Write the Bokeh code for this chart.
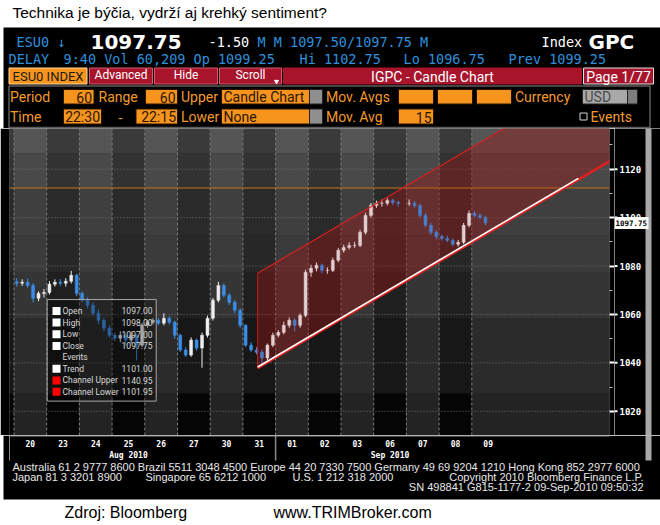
from bokeh.plotting import figure
from bokeh.models import Range1d, FixedTicker, ColumnDataSource
from bokeh.layouts import column, row
from bokeh.embed import file_html
from bokeh.resources import INLINE
from bokeh.core.properties import value

# ------------------------------------------------------------------ data
title_text = "Technika je býčia, vydrží aj krehký sentiment?"
day_labels = ["20", "23", "24", "25", "26", "27", "30", "31",
              "01", "02", "03", "06", "07", "08", "09"]
month_labels = ["Aug 2010", "Sep 2010"]
month_label_day = [3.5, 11.5]
month_break_day = [8]
bars_per_day = 6

open_by_day = [
    [1073.5, 1072.9, 1073.3, 1072.0, 1066.7, 1068.7],
    [1069.1, 1072.5, 1073.3, 1072.9, 1073.7, 1076.2],
    [1068.7, 1065.9, 1063.8, 1060.5, 1057.6, 1054.3],
    [1051.4, 1050.2, 1051.4, 1049.4, 1051.4, 1047.3],
    [1055.5, 1056.8, 1057.6, 1056.4, 1058.4, 1056.8],
    [1051.4, 1045.3, 1043.2, 1049.4, 1046.1, 1051.4],
    [1058.4, 1065.9, 1072.0, 1067.9, 1065.0, 1061.7],
    [1055.5, 1047.3, 1045.3, 1044.4, 1042.0, 1047.3],
    [1051.4, 1052.6, 1055.5, 1057.6, 1055.5, 1059.6],
    [1077.4, 1079.1, 1080.3, 1078.2, 1078.2, 1082.4],
    [1086.5, 1087.7, 1088.5, 1088.5, 1093.9, 1100.9],
    [1105.0, 1105.9, 1105.9, 1107.1, 1106.3],
    [1105.9, 1105.9, 1105.0, 1100.9, 1096.8, 1093.9],
    [1092.2, 1091.4, 1090.6, 1089.0, 1089.8, 1096.8],
    [1101.7, 1100.9, 1100.1],
]
high_by_day = [
    [1075.0, 1074.5, 1074.8, 1073.0, 1069.5, 1070.5],
    [1073.8, 1074.5, 1074.6, 1075.0, 1078.0, 1076.8],
    [1069.5, 1067.0, 1065.0, 1062.0, 1058.5, 1055.5],
    [1052.5, 1053.0, 1052.5, 1053.0, 1052.0, 1056.5],
    [1057.8, 1058.5, 1058.6, 1060.5, 1059.2, 1057.5],
    [1052.0, 1046.5, 1050.5, 1050.0, 1052.5, 1059.5],
    [1066.8, 1073.5, 1072.8, 1068.8, 1066.0, 1062.5],
    [1056.0, 1048.5, 1046.5, 1045.5, 1048.0, 1052.5],
    [1053.5, 1057.0, 1058.8, 1058.5, 1060.5, 1078.5],
    [1080.5, 1081.5, 1081.0, 1079.5, 1083.5, 1087.5],
    [1088.8, 1089.8, 1090.0, 1095.0, 1102.0, 1106.0],
    [1107.0, 1107.5, 1108.0, 1107.8, 1107.0],
    [1107.5, 1106.8, 1105.8, 1101.8, 1097.8, 1094.8],
    [1093.0, 1092.5, 1091.5, 1090.8, 1097.8, 1103.0],
    [1102.75, 1101.8, 1100.8],
]
low_by_day = [
    [1071.5, 1071.8, 1071.0, 1065.0, 1065.5, 1067.0],
    [1068.2, 1071.5, 1071.8, 1071.5, 1072.8, 1067.5],
    [1065.0, 1062.5, 1059.5, 1056.0, 1053.0, 1050.5],
    [1049.0, 1048.5, 1047.0, 1048.0, 1041.0, 1046.5],
    [1054.5, 1055.8, 1055.5, 1055.5, 1055.8, 1050.0],
    [1044.5, 1042.5, 1042.5, 1045.0, 1038.0, 1050.5],
    [1057.5, 1065.0, 1067.0, 1064.0, 1060.5, 1054.5],
    [1046.5, 1044.5, 1043.5, 1039.8, 1041.0, 1046.5],
    [1050.5, 1051.8, 1054.5, 1053.0, 1054.5, 1058.8],
    [1075.5, 1077.8, 1077.0, 1076.8, 1077.5, 1081.5],
    [1085.5, 1086.8, 1087.5, 1087.8, 1093.0, 1100.0],
    [1104.0, 1104.5, 1105.0, 1105.2, 1104.5],
    [1104.8, 1104.0, 1100.0, 1096.0, 1092.8, 1091.0],
    [1090.5, 1089.8, 1088.2, 1088.0, 1089.0, 1096.0],
    [1100.0, 1099.2, 1096.75],
]
close_by_day = [
    [1072.9, 1073.3, 1072.0, 1066.7, 1068.7, 1069.1],
    [1072.5, 1073.3, 1072.9, 1073.7, 1076.2, 1068.7],
    [1065.9, 1063.8, 1060.5, 1057.6, 1054.3, 1051.4],
    [1050.2, 1051.4, 1049.4, 1051.4, 1047.3, 1055.5],
    [1056.8, 1057.6, 1056.4, 1058.4, 1056.8, 1051.4],
    [1045.3, 1043.2, 1049.4, 1046.1, 1051.4, 1058.4],
    [1065.9, 1072.0, 1067.9, 1065.0, 1061.7, 1055.5],
    [1047.3, 1045.3, 1044.4, 1042.0, 1047.3, 1051.4],
    [1052.6, 1055.5, 1057.6, 1055.5, 1059.6, 1077.4],
    [1079.1, 1080.3, 1078.2, 1078.2, 1082.4, 1086.5],
    [1087.7, 1088.5, 1088.5, 1093.9, 1100.9, 1105.0],
    [1105.9, 1105.9, 1107.1, 1106.3, 1105.9],
    [1105.9, 1105.0, 1100.9, 1096.8, 1093.9, 1092.2],
    [1091.4, 1090.6, 1089.0, 1089.8, 1096.8, 1101.7],
    [1100.9, 1100.1, 1097.75],
]

price_ticks = [1020, 1040, 1060, 1080, 1100, 1120]
price_tick_labels = ["1020", "1040", "1060", "1080", "1100", "1120"]
price_minor = [1010, 1030, 1050, 1070, 1090, 1110, 1130]
last_price = 1097.75
last_price_label = "1097.75"
orange_level = 1112.2

channel_days = [7.45, 18.6]
channel_lower = [1037.8, 1126.3]
channel_upper = [1077.0, 1165.5]
trend_days = [7.45, 17.26]
trend_vals = [1038.3, 1116.2]

legend_names = ["Open", "High", "Low", "Close", "Events", "Trend",
                "Channel Upper", "Channel Lower"]
legend_values = ["1097.00", "1098.00", "1097.00", "1097.75", "",
                 "1101.00", "1140.95", "1101.95"]
legend_swatch = ["#ffffff", "#ffffff", "#ffffff", "#ffffff", None,
                 "#ffffff", "#ff0000", "#ff0000"]

# ------------------------------------------------------------------ layout constants (page px)
PX_DAY0, PX_PER_DAY = 13.5, 32.7
FRAME_L, FRAME_R = 9, 609
AXIS_W = 5            # tick strip right of the frame
X_START = (FRAME_L - PX_DAY0) / PX_PER_DAY
X_END = (FRAME_R - PX_DAY0) / PX_PER_DAY
Y_BOT, Y_TOP = 1010.0, 1136.8
PX_Y1120, PX_PER_UNIT = 168.7, 2.425


def dx(px):
    return (px - PX_DAY0) / PX_PER_DAY


def dy(py):
    return 1120 - (py - PX_Y1120) / PX_PER_UNIT


BLUE = "#2e90dc"
ORANGE_TXT = "#f39a2c"
ORANGE_FILL = "#f7941d"
RED_TAB = "#a8142c"
MONO = "DejaVu Sans Mono"


def add_texts(p, items, font, size, color, align="left", style="normal", **kw):
    p.text(x=[i[0] for i in items], y=[i[1] for i in items], text=[i[2] for i in items],
           text_font=value(font), text_font_size=size, text_color=color,
           text_align=align, text_baseline="middle", text_font_style=style, **kw)


def base_fig(width, height, xr, yr, bg="white"):
    f = figure(width=width, height=height, x_range=Range1d(*xr) if isinstance(xr, tuple) else xr,
               y_range=Range1d(*yr) if isinstance(yr, tuple) else yr,
               x_axis_location=None, y_axis_location=None, toolbar_location=None,
               output_backend="svg", min_border=0, min_border_left=0, min_border_right=0,
               min_border_top=0, min_border_bottom=0, outline_line_color=None,
               background_fill_color=bg, border_fill_color=bg)
    f.grid.visible = False
    return f


# ------------------------------------------------------------------ header (page y 0..128)
ph = base_fig(660, 128, (0, 660), (128, 0))
ph.quad(left=[3], right=[660], top=[27], bottom=[128], fill_color="black", line_color=None)
add_texts(ph, [(12, 12, title_text)], "Liberation Sans", "15.5px", "black")

add_texts(ph, [(16, 41.5, "ESU0 ↓"), (257, 41.5, "M M 1097.50/1097.75 M")], MONO, "13.5px", BLUE)
add_texts(ph, [(208, 41.5, "-1.50"), (541, 41.5, "Index")], MONO, "13.5px", "white")
add_texts(ph, [(90, 41.5, "1097.75"), (588, 41.5, "GPC")], "DejaVu Sans", "20px", "white", style="bold")
add_texts(ph, [(8, 58.5, "DELAY"), (63, 58.5, "9:40 Vol 60,209 Op 1099.25"),
               (299, 58.5, "Hi 1102.75"), (403, 58.5, "Lo 1096.75"),
               (508, 58.5, "Prev 1099.25")], MONO, "13.5px", BLUE)

tab_l = [8.5, 89, 154, 219, 283, 583]
tab_r = [86.5, 152, 217, 281, 581, 653]
tab_fill = [ORANGE_FILL, RED_TAB, RED_TAB, RED_TAB, RED_TAB, RED_TAB]
tab_line = ["#ffd9a0", "#d65a6a", "#d65a6a", "#d65a6a", RED_TAB, "#e0e0e0"]
ph.quad(left=tab_l, right=tab_r, top=[67.5] * 6, bottom=[83.5] * 6,
        fill_color=tab_fill, line_color=tab_line, line_width=1)
add_texts(ph, [(47.5, 76, "ESU0 INDEX")], "Roboto", "13px", "#1a1a1a", align="center")
add_texts(ph, [(120.5, 74.5, "Advanced"), (185.5, 74.5, "Hide"), (250, 74.5, "Scroll")],
          "Roboto", "12px", "white", align="center")
add_texts(ph, [(432, 76, "IGPC - Candle Chart"), (618, 76, "Page 1/77")],
          "Roboto", "14px", "white", align="center")
ph.scatter(x=[276], y=[81], marker="inverted_triangle", size=4, color="white")

ph.quad(left=[8.5], right=[649.5], top=[85.5], bottom=[127], fill_alpha=0,
        line_color="#5c5c5c", line_width=1.5)
ob_l = [63, 145, 221, 398, 437, 476, 63, 135.5, 221, 398]
ob_r = [93.5, 177, 309, 433, 472, 511, 101, 177, 309, 433]
ob_t = [89] * 6 + [108.5] * 4
ob_b = [103.5] * 6 + [123.5] * 4
ph.quad(left=ob_l, right=ob_r, top=ob_t, bottom=ob_b, fill_color=ORANGE_FILL, line_color="#2a1500")
ph.quad(left=[309, 309, 582, 627], right=[322, 322, 627, 637], top=[89, 108.5, 89, 89],
        bottom=[103.5, 123.5, 103.5, 103.5],
        fill_color=["#8f8f8f", "#8f8f8f", "#a9a9a9", "#7d7d7d"], line_color="#222222")
ph.quad(left=[579.5], right=[586.5], top=[112.5], bottom=[119.5], fill_alpha=0,
        line_color="#d0d0d0")
add_texts(ph, [(9.5, 96.5, "Period"), (98, 96.5, "Range"), (180.5, 96.5, "Upper"),
               (325.5, 96.5, "Mov. Avgs"), (514.5, 96.5, "Currency"),
               (9.5, 116.5, "Time"), (118, 116.5, "-"), (180.5, 116.5, "Lower"),
               (325.5, 116.5, "Mov. Avg"), (590, 116.5, "Events")],
          "Roboto", "14px", ORANGE_TXT)
add_texts(ph, [(91.5, 96.5, "60"), (175, 96.5, "60"), (99.5, 116.5, "22:30"),
               (175.5, 116.5, "22:15"), (431, 116.5, "15")],
          "Roboto", "14px", "#2b1600", align="right")
add_texts(ph, [(223, 96.5, "Candle Chart"), (223, 116.5, "None")], "Roboto", "14px", "#2b1600")
add_texts(ph, [(584, 96.5, "USD")], "Roboto", "14px", "#4a4a4a")

# ------------------------------------------------------------------ chart (page y 128..435)
pc = figure(width=FRAME_R + AXIS_W, height=307, x_range=Range1d(X_START, X_END),
            y_range=Range1d(Y_BOT, Y_TOP),
            x_axis_location=None, y_axis_location="right", toolbar_location=None,
            output_backend="svg", min_border_left=FRAME_L, min_border_right=AXIS_W,
            min_border_top=0, min_border_bottom=0, border_fill_color="black",
            background_fill_color="#262626", outline_line_color=None)
pc.grid.visible = False

band_edges = [1136.8, 1126.5, 1112.0, 1092.7, 1077.5, 1058.4, 1027.5, 1010.0]
light_shades = ["#555555", "#494949", "#3f3f3f", "#3b3b3b", "#353535", "#2b2b2b", "#232323"]
dark_shades = ["#3a3a3a", "#323232", "#2a2a2a", "#272727", "#1f1f1f", "#171717", "#050505"]
cols = [(-1, 0, False)] + [(d, d + 1, d % 2 == 0) for d in range(14)] + [(14, 20, True)]
qL, qR, qT, qB, qC = [], [], [], [], []
for (a, b, light) in cols:
    for r in range(len(band_edges) - 1):
        qL.append(a); qR.append(b)
        qT.append(band_edges[r]); qB.append(band_edges[r + 1])
        qC.append(light_shades[r] if light else dark_shades[r])
pc.quad(left=qL, right=qR, top=qT, bottom=qB, fill_color=qC, line_color=None)

bounds = list(range(len(day_labels)))
pc.segment(x0=bounds, y0=[Y_BOT] * len(bounds), x1=bounds, y1=[Y_TOP] * len(bounds),
           line_color="#7a7a7a", line_dash="3 2", line_width=1)
pc.segment(x0=[X_START] * len(price_ticks), y0=price_ticks, x1=[X_END] * len(price_ticks),
           y1=price_ticks, line_color="#6e6e6e", line_dash="1 2", line_width=1)

ch_x = [channel_days[0], channel_days[1], channel_days[1], channel_days[0]]
ch_y = [channel_lower[0], channel_lower[1], channel_upper[1], channel_upper[0]]
pc.patch(x=ch_x, y=ch_y, fill_color="#a01818", fill_alpha=0.3, line_color=None)

pc.segment(x0=[X_START], y0=[orange_level], x1=[X_END], y1=[orange_level],
           line_color="#c8741a", line_dash="1 1", line_width=2)

bx, bo, bh, bl, bc = [], [], [], [], []
for d in range(len(close_by_day)):
    for k, c in enumerate(close_by_day[d]):
        bx.append(d + (k + 0.5) / bars_per_day)
        bo.append(open_by_day[d][k]); bh.append(high_by_day[d][k])
        bl.append(low_by_day[d][k]); bc.append(c)
src = ColumnDataSource(dict(
    x=bx, high=bh, low=bl,
    top=[max(o, c) for o, c in zip(bo, bc)],
    bottom=[min(o, c) for o, c in zip(bo, bc)],
    color=["#eeeeee" if c >= o else "#3b8ee8" for o, c in zip(bo, bc)]))
pc.segment(x0="x", y0="low", x1="x", y1="high", line_color="color", line_width=1, source=src)
pc.vbar(x="x", width=0.09, top="top", bottom="bottom", fill_color="color",
        line_color="color", line_width=0.5, source=src)

pc.patch(x=ch_x, y=ch_y, fill_color="#a01818", fill_alpha=0.15, line_color=None)
pc.line(x=channel_days, y=channel_upper, line_color="#d42020", line_width=1.2)
pc.segment(x0=[channel_days[0]], y0=[channel_lower[0]], x1=[channel_days[0]],
           y1=[channel_upper[0]], line_color="#c01c1c", line_width=1)
pc.line(x=channel_days, y=channel_lower, line_color="#e02020", line_width=2.6)
pc.line(x=trend_days, y=trend_vals, line_color="white", line_width=1.6)

# legend box
pc.quad(left=[dx(46.7)], right=[dx(155.7)], top=[dy(299.3)], bottom=[dy(401)],
        fill_color="black", fill_alpha=0.3, line_color="#a8a8a8", line_width=1)
row_py = [310.7, 322.3, 334, 345.7, 357.3, 368.7, 380.3, 391.7]
sw = [(py, c) for py, c in zip(row_py, legend_swatch) if c]
pc.quad(left=[dx(52)] * len(sw), right=[dx(60)] * len(sw),
        top=[dy(py - 4) for py, _ in sw], bottom=[dy(py + 4) for py, _ in sw],
        fill_color=[c for _, c in sw], line_color=None)
add_texts(pc, [(dx(62), dy(py), n) for py, n in zip(row_py, legend_names)],
          "Roboto", "8.5px", "#d8d8d8")
add_texts(pc, [(dx(152), dy(py), v) for py, v in zip(row_py, legend_values) if v],
          "Roboto", "8.5px", "#d8d8d8", align="right")

# right price axis: the library axis draws the tick marks, the labels sit in the strip beside it
ya = pc.yaxis[0]
ya.ticker = FixedTicker(ticks=price_ticks, minor_ticks=price_minor)
ya.major_label_overrides = {t: "" for t in price_ticks}
ya.major_label_standoff = 0
ya.axis_line_color = None
ya.major_tick_line_color = "white"
ya.major_tick_line_width = 2
ya.major_tick_out = AXIS_W
ya.major_tick_in = 0
ya.minor_tick_line_color = "#bbbbbb"
ya.minor_tick_out = 3
ya.minor_tick_in = 0

# label strip (shares the chart's price scale)
PAX_L = FRAME_R + AXIS_W
pax = base_fig(660 - PAX_L, 307, (PAX_L, 660), pc.y_range, bg="black")
pax.quad(left=[645], right=[651], top=[Y_TOP], bottom=[Y_BOT], fill_color="#a8a8a8", line_color=None)
pax.segment(x0=[PAX_L] * len(price_ticks), y0=price_ticks, x1=[617] * len(price_ticks),
            y1=price_ticks, line_color="white", line_width=2)
add_texts(pax, [(619, t, lab) for t, lab in zip(price_ticks, price_tick_labels)],
          MONO, "9px", "white", style="bold")
pax.quad(left=[PAX_L], right=[648], top=[last_price + 2.5], bottom=[last_price - 2.5],
         fill_color="white", line_color=None)
add_texts(pax, [(615, last_price, last_price_label)], MONO, "7.5px", "black", style="bold")

# ------------------------------------------------------------------ footer (page y 435..525)
pf = base_fig(660, 90, (0, 660), (525, 435))
pf.extra_x_ranges = {"days": Range1d((0 - PX_DAY0) / PX_PER_DAY, (660 - PX_DAY0) / PX_PER_DAY)}
pf.quad(left=[3], right=[660], top=[435], bottom=[499], fill_color="black", line_color=None)
pf.quad(left=[645], right=[651], top=[435], bottom=[460], fill_color="#a8a8a8", line_color=None)
pf.segment(x0=[FRAME_L, FRAME_L], y0=[435.5, 435], x1=[FRAME_R, FRAME_L], y1=[435.5, 460],
           line_color="#8a8a8a", line_width=1)
pf.segment(x0=month_break_day, y0=[435], x1=month_break_day, y1=[460],
           line_color="#8a8a8a", line_width=1.5, x_range_name="days")
add_texts(pf, [(d + 0.5, 443, lab) for d, lab in enumerate(day_labels)], MONO, "8px", "white",
          align="center", style="bold", x_range_name="days")
add_texts(pf, [(x, 454.5, lab) for x, lab in zip(month_label_day, month_labels)], MONO, "8px",
          "white", align="center", style="bold", x_range_name="days")
add_texts(pf, [(12, 466, "Australia 61 2 9777 8600 Brazil 5511 3048 4500 Europe 44 20 7330 7500 "
                         "Germany 49 69 9204 1210 Hong Kong 852 2977 6000"),
               (12, 476, "Japan 81 3 3201 8900"), (145, 476, "Singapore 65 6212 1000"),
               (292, 476, "U.S. 1 212 318 2000")], "Liberation Sans", "11px", "#e8e8e8")
add_texts(pf, [(643, 476, "Copyright 2010 Bloomberg Finance L.P."),
               (643, 486, "SN 498841 G815-1177-2 09-Sep-2010 09:50:32")],
          "Liberation Sans", "11px", "#e8e8e8", align="right")
add_texts(pf, [(64, 512, "Zdroj: Bloomberg"), (273, 512, "www.TRIMBroker.com")],
          "Liberation Sans", "16px", "black")

layout = column(ph, row(pc, pax, spacing=0), pf, spacing=0)
open("out.html", "w").write(file_html(layout, INLINE))
